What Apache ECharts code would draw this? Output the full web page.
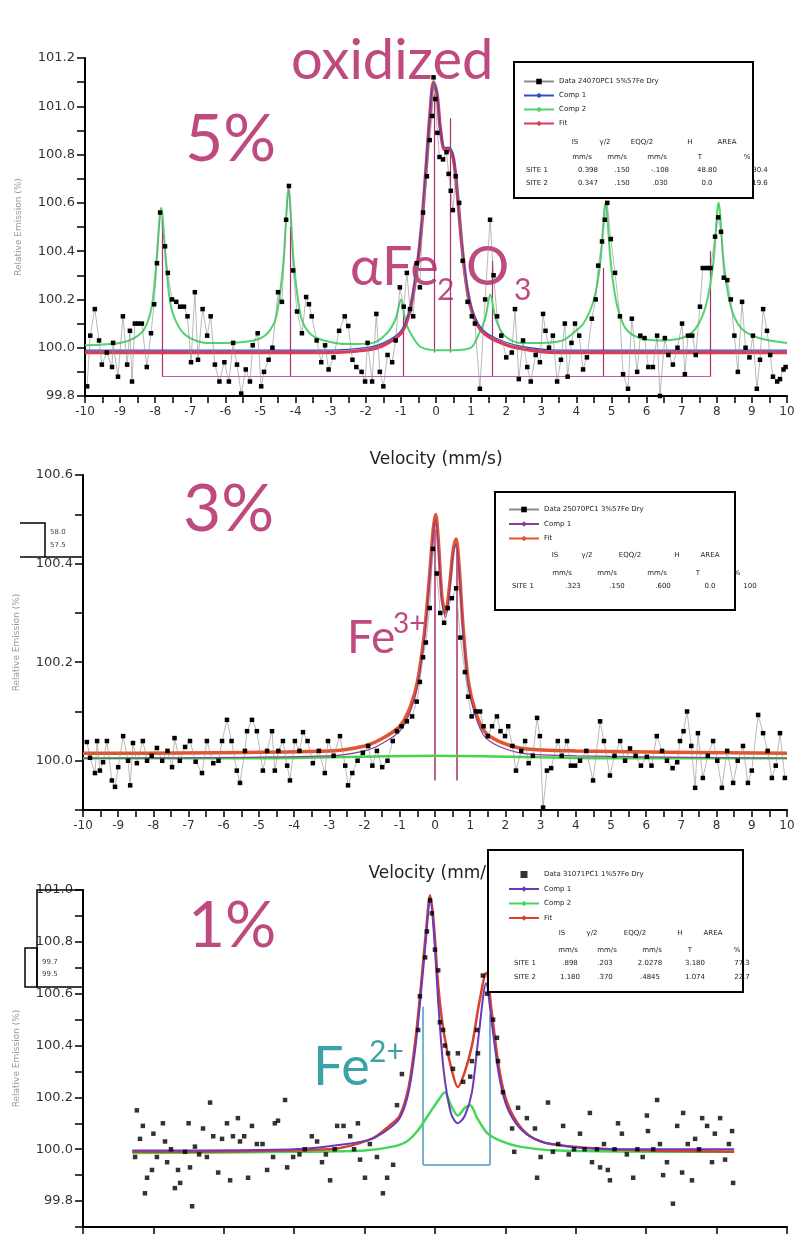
<!DOCTYPE html>
<html><head><meta charset="utf-8">
<script src="https://cdn.jsdelivr.net/npm/echarts@6.0.0/dist/echarts.min.js"></script>
<style>html,body{margin:0;padding:0;background:#fff}#c{width:805px;height:1247px}</style>
</head><body><div id="c"></div>
<script>
// ---------------- DATA ----------------
const velocityLabelText = 'Velocity (mm/s)';
const yAxisTitle = 'Relative Emission (%)';

// Panel 1 (5%)
const p1Data = [[-9.94,99.84],[-9.85,100.05],[-9.72,100.16],[-9.6,100.03],[-9.52,99.93],[-9.38,99.98],[-9.23,99.92],[-9.2,100.02],[-9.06,99.88],[-8.92,100.13],[-8.8,99.93],[-8.72,100.07],[-8.66,99.86],[-8.58,100.1],[-8.49,100.1],[-8.38,100.1],[-8.24,99.92],[-8.12,100.06],[-8.03,100.18],[-7.95,100.35],[-7.86,100.56],[-7.72,100.42],[-7.64,100.31],[-7.52,100.2],[-7.4,100.19],[-7.29,100.17],[-7.18,100.17],[-7.08,100.13],[-6.98,99.94],[-6.87,100.23],[-6.78,99.95],[-6.65,100.16],[-6.52,100.05],[-6.42,100.13],[-6.3,99.93],[-6.17,99.86],[-6.03,99.94],[-5.9,99.86],[-5.78,100.02],[-5.67,99.93],[-5.55,99.81],[-5.42,99.91],[-5.3,99.86],[-5.22,100.01],[-5.08,100.06],[-4.98,99.84],[-4.9,99.9],[-4.77,99.95],[-4.66,100.0],[-4.5,100.23],[-4.39,100.19],[-4.27,100.53],[-4.19,100.67],[-4.07,100.32],[-3.96,100.15],[-3.82,100.06],[-3.7,100.21],[-3.62,100.18],[-3.54,100.13],[-3.4,100.03],[-3.27,99.94],[-3.16,100.01],[-3.06,99.91],[-2.92,99.96],[-2.76,100.07],[-2.6,100.13],[-2.5,100.09],[-2.38,99.95],[-2.27,99.92],[-2.12,99.9],[-2.02,99.86],[-1.95,100.02],[-1.82,99.86],[-1.7,100.14],[-1.6,99.9],[-1.5,99.84],[-1.38,99.97],[-1.25,99.94],[-1.15,100.03],[-1.03,100.25],[-0.92,100.17],[-0.83,100.31],[-0.74,100.16],[-0.65,100.13],[-0.55,100.35],[-0.46,100.25],[-0.37,100.56],[-0.26,100.71],[-0.18,100.86],[-0.11,100.96],[-0.07,101.12],[-0.02,101.03],[0.04,100.89],[0.1,100.79],[0.2,100.78],[0.3,100.81],[0.36,100.72],[0.42,100.65],[0.48,100.57],[0.56,100.71],[0.66,100.6],[0.76,100.36],[0.9,100.19],[1.02,100.13],[1.11,100.1],[1.25,99.83],[1.4,100.2],[1.54,100.53],[1.64,100.3],[1.74,100.13],[1.86,100.05],[2.0,99.96],[2.16,99.98],[2.25,100.16],[2.36,99.87],[2.48,100.03],[2.6,99.92],[2.7,99.86],[2.84,99.97],[2.96,99.94],[3.05,100.14],[3.12,100.07],[3.22,100.0],[3.33,100.05],[3.45,99.86],[3.56,99.95],[3.67,100.1],[3.75,99.88],[3.86,100.02],[3.96,100.1],[4.08,100.05],[4.19,99.91],[4.3,99.96],[4.44,100.12],[4.55,100.2],[4.62,100.34],[4.73,100.44],[4.81,100.53],[4.88,100.6],[4.98,100.45],[5.1,100.31],[5.24,100.13],[5.33,99.89],[5.47,99.83],[5.58,100.12],[5.73,99.9],[5.82,100.05],[5.94,100.04],[6.05,99.92],[6.18,99.92],[6.3,100.05],[6.38,99.8],[6.52,100.04],[6.62,99.97],[6.75,99.93],[6.88,100.0],[7.01,100.1],[7.09,99.89],[7.18,100.05],[7.3,100.05],[7.4,99.97],[7.52,100.17],[7.6,100.33],[7.72,100.33],[7.82,100.33],[7.95,100.46],[8.04,100.54],[8.12,100.48],[8.2,100.29],[8.3,100.28],[8.4,100.2],[8.5,100.05],[8.6,99.9],[8.72,100.19],[8.82,100.0],[8.93,99.96],[9.03,100.05],[9.14,99.83],[9.23,99.95],[9.32,100.16],[9.43,100.07],[9.52,99.97],[9.6,99.88],[9.72,99.86],[9.8,99.87],[9.9,99.91],[9.96,99.92]];
const p1Comp1 = [[-10,99.99],[-3,99.99],[-2,100.0],[-1.5,100.02],[-1.0,100.07],[-0.75,100.16],[-0.55,100.33],[-0.4,100.53],[-0.28,100.76],[-0.17,100.98],[-0.07,101.1],[0.03,101.05],[0.13,100.9],[0.25,100.83],[0.38,100.83],[0.5,100.79],[0.62,100.63],[0.74,100.43],[0.88,100.26],[1.05,100.15],[1.3,100.08],[1.7,100.04],[2.3,100.01],[3.5,99.99],[10,99.99]];
const p1Comp2 = [[-10,100.01],[-9,100.02],[-8.6,100.04],[-8.3,100.08],[-8.1,100.17],[-7.98,100.33],[-7.83,100.58],[-7.68,100.33],[-7.55,100.17],[-7.3,100.08],[-7.0,100.04],[-6.5,100.02],[-6.0,100.02],[-5.2,100.03],[-4.8,100.06],[-4.55,100.13],[-4.35,100.35],[-4.2,100.66],[-4.05,100.35],[-3.85,100.13],[-3.6,100.06],[-3.2,100.03],[-2.5,100.015],[-1.8,100.02],[-1.4,100.06],[-1.15,100.12],[-1.0,100.2],[-0.85,100.1],[-0.6,100.03],[-0.4,100.0],[0,99.99],[0.5,99.99],[1.0,100.0],[1.2,100.05],[1.4,100.12],[1.55,100.22],[1.7,100.12],[1.95,100.05],[2.4,100.02],[3.0,100.02],[3.6,100.03],[3.9,100.06],[4.2,100.1],[4.5,100.2],[4.68,100.35],[4.83,100.6],[4.98,100.35],[5.15,100.18],[5.4,100.08],[5.8,100.04],[6.4,100.03],[7.0,100.04],[7.4,100.08],[7.7,100.18],[7.9,100.35],[8.05,100.6],[8.2,100.35],[8.4,100.17],[8.7,100.08],[9.2,100.04],[10,100.02]];
const p1Fit = [[-10,99.98],[-3,99.98],[-2,99.99],[-1.5,100.01],[-1.0,100.06],[-0.75,100.15],[-0.55,100.32],[-0.4,100.52],[-0.28,100.75],[-0.17,100.97],[-0.07,101.1],[0.03,101.05],[0.13,100.9],[0.25,100.82],[0.38,100.82],[0.5,100.78],[0.62,100.62],[0.74,100.42],[0.88,100.25],[1.05,100.14],[1.3,100.07],[1.7,100.03],[2.3,100.0],[3.5,99.98],[10,99.98]];
const p1StickPos = [-7.8,-4.15,-0.92,1.6,4.77,7.8];
const p1StickTop = [100.55,100.5,100.17,100.36,100.33,100.4];
const p1StickBase = 99.88;
const p1CenterStickPos = [-0.05,0.42];
const p1CenterStickTop = [101.05,100.95];
const p1CenterStickBase = 99.98;

// Panel 2 (3%)
const p2Data = [[-9.89,100.038],[-9.8,100.006],[-9.66,99.975],[-9.6,100.04],[-9.52,99.98],[-9.43,99.997],[-9.32,100.04],[-9.18,99.96],[-9.09,99.947],[-9.0,99.987],[-8.86,100.05],[-8.72,100.0],[-8.66,99.95],[-8.58,100.036],[-8.47,99.995],[-8.3,100.04],[-8.18,100.0],[-8.05,100.01],[-7.9,100.026],[-7.75,100.0],[-7.6,100.02],[-7.47,99.987],[-7.4,100.046],[-7.25,100.0],[-7.1,100.028],[-6.96,100.04],[-6.8,99.998],[-6.62,99.975],[-6.48,100.04],[-6.3,99.995],[-6.15,100.0],[-6.05,100.04],[-5.91,100.083],[-5.78,100.04],[-5.63,99.98],[-5.54,99.955],[-5.4,100.02],[-5.34,100.06],[-5.2,100.083],[-5.06,100.06],[-4.89,99.98],[-4.77,100.02],[-4.63,100.06],[-4.55,99.98],[-4.45,100.02],[-4.32,100.04],[-4.2,99.99],[-4.12,99.96],[-3.98,100.04],[-3.85,100.02],[-3.75,100.058],[-3.62,100.04],[-3.47,99.995],[-3.3,100.02],[-3.13,99.975],[-3.04,100.04],[-2.88,100.01],[-2.7,100.05],[-2.55,99.99],[-2.47,99.95],[-2.35,99.975],[-2.2,100.0],[-2.05,100.016],[-1.9,100.03],[-1.78,99.99],[-1.65,100.02],[-1.5,99.987],[-1.35,100.0],[-1.2,100.04],[-1.08,100.06],[-0.95,100.07],[-0.8,100.08],[-0.65,100.09],[-0.52,100.12],[-0.43,100.16],[-0.34,100.21],[-0.26,100.24],[-0.15,100.31],[-0.06,100.43],[0.05,100.38],[0.15,100.3],[0.26,100.28],[0.36,100.31],[0.48,100.33],[0.6,100.35],[0.72,100.25],[0.85,100.18],[0.94,100.13],[1.04,100.09],[1.16,100.1],[1.28,100.1],[1.38,100.07],[1.5,100.05],[1.62,100.07],[1.76,100.09],[1.86,100.06],[1.99,100.05],[2.08,100.07],[2.2,100.03],[2.3,99.98],[2.45,100.02],[2.56,100.04],[2.66,99.995],[2.78,100.01],[2.9,100.087],[2.98,100.05],[3.07,99.905],[3.18,99.98],[3.3,99.985],[3.49,100.04],[3.6,100.01],[3.75,100.04],[3.86,99.99],[3.98,99.99],[4.12,100.0],[4.3,100.02],[4.49,99.96],[4.69,100.08],[4.8,100.04],[4.97,99.97],[5.1,100.01],[5.26,100.04],[5.4,100.0],[5.54,100.025],[5.7,100.01],[5.85,99.99],[6.02,100.008],[6.15,99.99],[6.3,100.05],[6.45,100.02],[6.59,100.0],[6.75,99.985],[6.88,99.997],[6.96,100.04],[7.06,100.06],[7.16,100.1],[7.28,100.03],[7.39,99.945],[7.47,100.056],[7.61,99.965],[7.75,100.01],[7.9,100.04],[8.02,100.0],[8.15,99.945],[8.3,100.02],[8.47,99.955],[8.6,100.0],[8.75,100.03],[8.89,99.955],[9.0,99.98],[9.18,100.093],[9.32,100.056],[9.45,100.02],[9.57,99.965],[9.68,99.99],[9.8,100.056],[9.94,99.965]];
const p2Comp1 = [[-10,100.005],[-3,100.01],[-2,100.02],[-1.5,100.035],[-1.0,100.06],[-0.7,100.1],[-0.5,100.15],[-0.3,100.25],[-0.15,100.37],[-0.05,100.46],[0.02,100.49],[0.1,100.43],[0.2,100.32],[0.3,100.29],[0.42,100.35],[0.52,100.42],[0.6,100.44],[0.68,100.39],[0.8,100.26],[0.95,100.15],[1.15,100.09],[1.4,100.05],[1.8,100.03],[2.5,100.015],[4,100.01],[10,100.005]];
const p2Comp2 = [[-10,100.005],[-5,100.005],[0,100.01],[5,100.005],[10,100.005]];
const p2Fit = [[-10,100.015],[-3,100.02],[-2,100.03],[-1.5,100.045],[-1.0,100.07],[-0.7,100.11],[-0.5,100.16],[-0.3,100.26],[-0.15,100.38],[-0.05,100.47],[0.02,100.5],[0.1,100.44],[0.2,100.33],[0.3,100.3],[0.42,100.36],[0.52,100.43],[0.6,100.45],[0.68,100.4],[0.8,100.27],[0.95,100.16],[1.15,100.1],[1.4,100.06],[1.8,100.04],[2.5,100.025],[4,100.02],[10,100.015]];
const p2StickPos = [0.0,0.62];
const p2StickTop = [100.47,100.44];
const p2StickBase = 99.96;

// Panel 3 (1%)
const p3Data = [[-8.52,99.97],[-8.47,100.15],[-8.38,100.04],[-8.3,100.09],[-8.24,99.83],[-8.18,99.89],[-8.04,99.92],[-8.0,100.06],[-7.9,99.97],[-7.73,100.1],[-7.67,100.03],[-7.61,99.95],[-7.5,100.0],[-7.39,99.85],[-7.3,99.92],[-7.24,99.87],[-7.1,99.99],[-7.0,100.1],[-6.96,99.93],[-6.9,99.78],[-6.82,100.01],[-6.7,99.98],[-6.59,100.08],[-6.48,99.97],[-6.39,100.18],[-6.3,100.05],[-6.16,99.91],[-6.05,100.04],[-5.91,100.1],[-5.82,99.88],[-5.74,100.05],[-5.6,100.12],[-5.54,100.03],[-5.42,100.05],[-5.31,99.89],[-5.2,100.09],[-5.06,100.02],[-4.9,100.02],[-4.77,99.92],[-4.6,99.97],[-4.55,100.1],[-4.46,100.11],[-4.26,100.19],[-4.2,99.93],[-4.03,99.97],[-3.85,99.98],[-3.7,100.0],[-3.5,100.05],[-3.35,100.03],[-3.21,99.95],[-3.1,99.98],[-2.98,99.88],[-2.85,100.0],[-2.78,100.09],[-2.6,100.09],[-2.41,100.05],[-2.3,100.0],[-2.19,100.1],[-2.13,99.96],[-1.99,99.89],[-1.85,100.02],[-1.65,99.97],[-1.48,99.83],[-1.36,99.89],[-1.19,99.94],[-1.08,100.17],[-0.94,100.29],[-0.48,100.46],[-0.43,100.59],[-0.28,100.74],[-0.23,100.84],[-0.14,100.96],[-0.09,100.91],[0.0,100.77],[0.09,100.69],[0.14,100.49],[0.23,100.46],[0.28,100.4],[0.37,100.37],[0.51,100.31],[0.65,100.37],[0.8,100.26],[1.0,100.28],[1.05,100.34],[1.19,100.46],[1.22,100.37],[1.36,100.67],[1.48,100.6],[1.65,100.5],[1.76,100.43],[1.79,100.34],[1.93,100.22],[2.19,100.08],[2.25,99.99],[2.36,100.16],[2.61,100.12],[2.84,100.08],[2.9,99.89],[3.0,99.97],[3.21,100.18],[3.35,99.99],[3.5,100.02],[3.64,100.09],[3.8,99.98],[3.95,100.0],[4.12,100.06],[4.25,100.0],[4.4,100.14],[4.46,99.95],[4.6,100.0],[4.69,99.93],[4.8,100.02],[4.91,99.92],[4.97,99.88],[5.1,100.0],[5.2,100.1],[5.31,100.06],[5.45,99.98],[5.63,99.89],[5.75,100.0],[5.9,99.97],[6.02,100.13],[6.05,100.07],[6.2,100.0],[6.31,100.19],[6.39,100.02],[6.48,99.9],[6.59,99.95],[6.76,99.79],[6.88,100.09],[7.02,99.91],[7.05,100.14],[7.18,100.02],[7.3,99.88],[7.39,100.04],[7.5,100.0],[7.59,100.12],[7.73,100.09],[7.87,99.95],[7.95,100.06],[8.1,100.12],[8.24,99.96],[8.35,100.02],[8.44,100.07],[8.47,99.87]];
const p3Comp1 = [[-8.6,99.995],[-4,100.0],[-2.5,100.02],[-1.8,100.04],[-1.3,100.08],[-1.0,100.12],[-0.75,100.22],[-0.55,100.4],[-0.4,100.6],[-0.25,100.82],[-0.14,100.97],[-0.04,100.85],[0.1,100.55],[0.25,100.3],[0.45,100.14],[0.65,100.1],[0.85,100.13],[1.05,100.22],[1.25,100.45],[1.45,100.64],[1.62,100.48],[1.8,100.3],[2.0,100.18],[2.3,100.1],[2.7,100.05],[3.3,100.02],[5,100.0],[8.5,100.0]];
const p3Comp2 = [[-8.6,99.985],[-4,99.99],[-2,99.995],[-1.2,100.01],[-0.8,100.03],[-0.5,100.07],[-0.2,100.13],[0.1,100.19],[0.28,100.22],[0.45,100.17],[0.65,100.13],[0.85,100.16],[1.0,100.17],[1.2,100.12],[1.5,100.06],[1.9,100.03],[2.4,100.01],[3.5,99.995],[8.5,99.99]];
const p3Fit = [[-8.6,99.99],[-3,100.0],[-1.8,100.04],[-1.3,100.09],[-1.0,100.13],[-0.75,100.24],[-0.55,100.43],[-0.4,100.63],[-0.25,100.85],[-0.14,100.98],[-0.04,100.88],[0.1,100.62],[0.25,100.45],[0.45,100.32],[0.65,100.24],[0.85,100.3],[1.05,100.4],[1.25,100.56],[1.45,100.68],[1.62,100.52],[1.8,100.33],[2.0,100.2],[2.3,100.11],[2.7,100.05],[3.3,100.02],[5,100.0],[8.5,99.99]];
const p3StickPos = [-0.34,1.56];
const p3StickTop = [100.55,100.52];
const p3StickBase = 99.94;

// legend / table texts
const p1Names = ['Data 24070PC1 5%57Fe Dry','Comp 1','Comp 2','Fit'];
const p2Names = ['Data 25070PC1 3%57Fe Dry','Comp 1 ','Fit '];
const p3Names = ['Data 31071PC1 1%57Fe Dry','Comp 1  ','Comp 2 ','Fit  '];
const tableHeader = ['IS','γ/2','EQQ/2','H','AREA'];
const tableUnits = ['mm/s','mm/s','mm/s','T','%'];
const p1Rows = [['SITE 1','0.398','.150','-.108','48.80','80.4'],['SITE 2','0.347','.150','.030','0.0','19.6']];
const p2Rows = [['SITE 1','.323','.150','.600','0.0','100']];
const p3Rows = [['SITE 1','.898','.203','2.0278','3.180','77.3'],['SITE 2','1.180','.370','.4845','1.074','22.7']];

// ---------------- CHART ----------------
const chart = echarts.init(document.getElementById('c'), null, {renderer:'canvas'});
const AX = {lineStyle:{color:'#000',width:2}};
const LBL = {color:'#333',fontSize:12,fontFamily:'DejaVu Sans'};
function xAxis(g, labels, interval, minor){
  return {type:'value',gridIndex:g,min:-10,max:10,interval:interval,
    axisLine:{show:true,onZero:false,lineStyle:AX.lineStyle},
    axisTick:{show:true,length:7,lineStyle:{color:'#000',width:1.5}},
    minorTick:{show:minor,splitNumber:2,length:7,lineStyle:{color:'#000',width:1.5}},
    splitLine:{show:false},
    axisLabel:{show:labels,margin:10,...LBL},
    name: labels ? velocityLabelText : '', nameLocation:'middle', nameGap:55,
    nameTextStyle:{color:'#222',fontSize:17,fontFamily:'DejaVu Sans'}};
}
function yAxis(g, min, max, interval, minorSplit, fmt){
  return {type:'value',gridIndex:g,min:min,max:max,interval:interval,
    axisLine:{show:true,onZero:false,lineStyle:AX.lineStyle},
    axisTick:{show:true,length:8,lineStyle:{color:'#000',width:1.5}},
    minorTick:{show:minorSplit>0,splitNumber:minorSplit||2,length:8,lineStyle:{color:'#000',width:1.5}},
    splitLine:{show:false},
    axisLabel:{margin:10,formatter:fmt,...LBL,fontSize:13},
    name:yAxisTitle,nameLocation:'middle',nameGap:62,
    nameTextStyle:{color:'#9a9a9a',fontSize:9,fontFamily:'DejaVu Sans'}};
}
const evenFmt = v => (Math.round(v*10)%2===0 ? v.toFixed(1) : '');

function curve(name, data, g, color, width, z){
  return {type:'line',name:name,xAxisIndex:g,yAxisIndex:g,data:data,smooth:0.3,
    symbol:'diamond',symbolSize:5,showSymbol:false,
    lineStyle:{color:color,width:width},itemStyle:{color:color},z:z||3,silent:true};
}
function dataLine(name, data, g){
  return {type:'line',name:name,xAxisIndex:g,yAxisIndex:g,data:data,
    symbol:'rect',symbolSize:4.5,showSymbol:true,
    lineStyle:{color:'#8a8a8a',width:0.6},itemStyle:{color:'#000'},z:4,silent:true};
}
function sticks(g, pos, top, base, color, width, baseColor){
  const d = pos.map((p,i)=>({coords:[[p,base],[p,top[i]]]}));
  if (baseColor) d.push({coords:[[pos[0],base],[pos[pos.length-1],base]],lineStyle:{color:baseColor,width:width}});
  return {type:'lines',coordinateSystem:'cartesian2d',xAxisIndex:g,yAxisIndex:g,data:d,
    lineStyle:{color:color,width:width,opacity:1},z:2,silent:true};
}

function legend(names, left, top, gap, squareFirst){
  const data = names.map((n,i)=> (i===0 && squareFirst) ? {name:n,icon:'path://M0,0 h10 v10 h-10 z',itemStyle:{color:'#000'}} : n);
  return {data:data,left:left,top:top,orient:'vertical',itemWidth:30,itemHeight:7,itemGap:gap,
    padding:0,selectedMode:false,textStyle:{fontSize:7,color:'#222',fontFamily:'DejaVu Sans'},z:6};
}

function tableTexts(rowsSpec){
  const out=[];
  rowsSpec.forEach(r=>{
    r.cells.forEach((t,i)=>out.push({type:'text',x:r.xs[i],y:r.y,z:20,
      style:{text:t,fill:'#222',font:'7px "DejaVu Sans"',textAlign:'center',textVerticalAlign:'middle'}}));
  });
  return out;
}
function box(x,y,w,h){return {type:'rect',shape:{x:x,y:y,width:w,height:h},z:5,
  style:{fill:'#fff',stroke:'#000',lineWidth:2}};}
function ann(t,x,y,size,color){return {type:'text',x:x,y:y,z:1,
  style:{text:t,fill:color,font:'400 '+size+'px Lato',textAlign:'left',textVerticalAlign:'middle'}};}

const ROSE='#bf4a80', TEAL='#3aa3a8';

const option = {
  animation:false,
  backgroundColor:'#fff',
  grid:[
    {left:85,top:58,width:702,height:338},
    {left:83,top:475,width:704,height:335},
    {left:83,top:890,width:704,height:337}
  ],
  xAxis:[xAxis(0,true,1,true),xAxis(1,true,1,true),xAxis(2,false,2,false)],
  yAxis:[
    yAxis(0,99.8,101.2,0.2,2,v=>v.toFixed(1)),
    yAxis(1,99.9,100.58,0.1,0,evenFmt),
    yAxis(2,99.7,101.0,0.1,0,evenFmt)
  ],
  legend:[legend(p1Names,523,78,7,false),legend(p2Names,508,506,7.5,false),legend(p3Names,508,871,7.5,true)],
  series:[
    sticks(0,p1StickPos,p1StickTop,p1StickBase,'#a8306e',1.2,'#c45aa8'),
    sticks(0,p1CenterStickPos,p1CenterStickTop,p1CenterStickBase,'#a8306e',1.2,null),
    curve(p1Names[2],p1Comp2,0,'#4fd46e',2,3),
    curve(p1Names[3],p1Fit,0,'#de3a55',3.5,3),
    curve(p1Names[1],p1Comp1,0,'#3050c0',1.2,3),
    dataLine(p1Names[0],p1Data,0),

    sticks(1,p2StickPos,p2StickTop,p2StickBase,'#a8306e',1.5,null),
    curve('',p2Comp2,1,'#44d64a',2.5,3),
    curve(p2Names[2],p2Fit,1,'#e2552f',3.5,3),
    curve(p2Names[1],p2Comp1,1,'#8a3a9a',1.2,3),
    dataLine(p2Names[0],p2Data,1),

    sticks(2,p3StickPos,p3StickTop,p3StickBase,'#4a98c0',1.5,'#4a98c0'),
    curve(p3Names[2],p3Comp2,2,'#44d65a',2.5,3),
    curve(p3Names[3],p3Fit,2,'#d8402a',2.5,3),
    curve(p3Names[1],p3Comp1,2,'#6a3ab8',2,3),
    {type:'scatter',name:p3Names[0],xAxisIndex:2,yAxisIndex:2,data:p3Data,symbol:'rect',symbolSize:4.5,
      itemStyle:{color:'#000'},z:4,silent:true}
  ],
  graphic:[].concat(
    [box(514,62,239,136),box(495,492,240,118),box(488,850,255,142)],
    tableTexts([
      {cells:tableHeader,xs:[575,605,642,690,727],y:142},
      {cells:tableUnits,xs:[582,617,657,700,747],y:157},
      {cells:p1Rows[0],xs:[537,588,622,660,707,760],y:170},
      {cells:p1Rows[1],xs:[537,588,622,660,707,760],y:183},
      {cells:tableHeader,xs:[555,587,630,677,710],y:555},
      {cells:tableUnits,xs:[562,607,657,698,737],y:573},
      {cells:p2Rows[0],xs:[523,573,617,663,710,750],y:586},
      {cells:tableHeader,xs:[562,592,635,680,713],y:933},
      {cells:tableUnits,xs:[568,607,652,690,737],y:950},
      {cells:p3Rows[0],xs:[525,570,605,650,695,742],y:963},
      {cells:p3Rows[1],xs:[525,570,605,650,695,742],y:977}
    ]),
    [
      ann('oxidized',291,61,56,ROSE),
      ann('5%',185,140,66,ROSE),
      ann('αFe',350,268,54,ROSE),
      ann('2',437,290,30,ROSE),
      ann('O',466,268,54,ROSE),
      ann('3',514,290,30,ROSE),
      ann('3%',183,510,66,ROSE),
      ann('Fe',347,638,46,ROSE),
      ann('3+',393,624,28,ROSE),
      ann('1%',188,926,64,ROSE),
      ann('Fe',313,1068,54,TEAL),
      ann('2+',369,1052,30,TEAL),
      {type:'polyline',z:5,shape:{points:[[20,523],[45,523],[45,557]]},style:{stroke:'#000',lineWidth:1.5,fill:null}},
      {type:'line',z:5,shape:{x1:20,y1:557,x2:82,y2:557},style:{stroke:'#000',lineWidth:1.5}},
      {type:'text',x:50,y:532,z:5,style:{text:'58.0',fill:'#444',font:'7px "DejaVu Sans"',textVerticalAlign:'middle'}},
      {type:'text',x:50,y:545,z:5,style:{text:'57.5',fill:'#444',font:'7px "DejaVu Sans"',textVerticalAlign:'middle'}},
      {type:'rect',z:5,shape:{x:37,y:890,width:46,height:97},style:{fill:null,stroke:'#000',lineWidth:1.5}},
      {type:'rect',z:5,shape:{x:25,y:948,width:12,height:39},style:{fill:null,stroke:'#000',lineWidth:1.5}},
      {type:'text',x:42,y:962,z:5,style:{text:'99.7',fill:'#444',font:'7px "DejaVu Sans"',textVerticalAlign:'middle'}},
      {type:'text',x:42,y:974,z:5,style:{text:'99.5',fill:'#444',font:'7px "DejaVu Sans"',textVerticalAlign:'middle'}}
    ]
  )
};
chart.setOption(option);
</script>
</body></html>
